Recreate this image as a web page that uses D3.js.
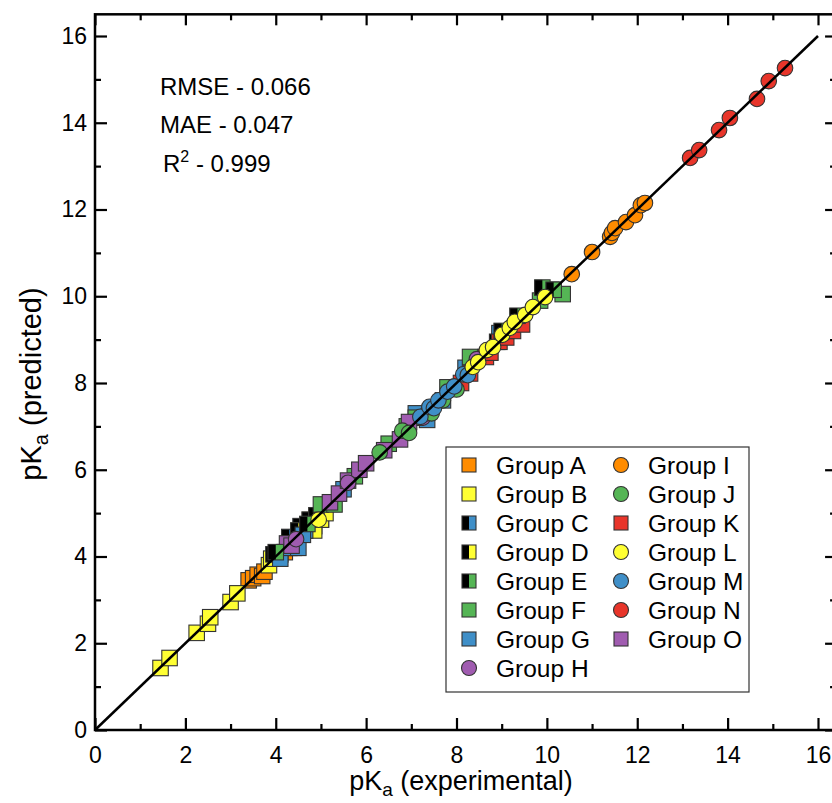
<!DOCTYPE html>
<html>
<head>
  <meta charset="utf-8"/>
  <title>pKa predicted vs experimental</title>
  <script src="https://d3js.org/d3.v7.min.js"></script>
  <style>
    html, body { margin: 0; padding: 0; background: #fff; overflow: hidden; }
    svg { display: block; font-family: "Liberation Sans", Arial, sans-serif; }
    .axis path { display: none; }
    .axis line { stroke: #000; stroke-width: 2.2px; }
    .axis text { font-size: 23px; fill: #000; font-family: "Liberation Sans", Arial, sans-serif; }
  </style>
</head>
<body>
<div id="chart"></div>
<script>
// [experimental, predicted] pairs per group
const groupA = [[3.4,3.45],[3.5,3.5],[3.6,3.58],[3.7,3.55],[3.75,3.65],[4.0,4.05],[4.2,4.1],[4.4,4.2],[4.85,4.7],[5.0,4.85]];
const groupB = [[1.45,1.43],[1.65,1.66],[2.25,2.24],[2.5,2.45],[2.55,2.6],[3.0,2.95],[3.15,3.15],[3.85,3.8],[3.9,3.95],[4.75,4.7],[4.85,4.6],[5.0,4.85],[5.1,5.0]];
const groupC = [[3.95,4.05],[4.3,4.45],[4.55,4.7],[4.65,4.6],[8.9,8.95]];
const groupD = [[4.1,4.05],[4.5,4.6],[4.75,4.85],[4.9,4.95]];
const groupE = [[4.0,4.1],[4.7,4.75],[9.0,9.2],[9.35,9.55],[9.9,10.2],[10.15,10.15]];
const groupF = [[5.0,5.2],[5.3,5.2],[5.75,5.85],[6.5,6.6],[6.9,7.0],[7.1,7.2],[7.8,7.9],[8.3,8.6],[9.85,9.9],[10.35,10.05],[10.1,10.15]];
const groupG = [[4.1,3.95],[4.3,4.2],[4.5,4.2],[4.6,4.5],[5.5,5.55],[7.1,7.3],[7.35,7.15],[7.7,7.6],[8.2,8.35],[8.95,9.15]];
const groupH = [[4.45,4.4],[5.6,5.7],[7.25,7.2],[7.35,7.3],[8.45,8.55]];
const groupI = [[10.55,10.51],[11.0,11.02],[11.4,11.37],[11.44,11.46],[11.51,11.57],[11.75,11.71],[11.95,11.87],[12.08,12.1],[12.17,12.15]];
const groupJ = [[6.3,6.4],[6.8,6.9],[6.95,6.85],[7.45,7.3],[7.7,7.6],[8.0,7.85]];
const groupK = [[8.1,8.0],[8.3,8.22],[8.65,8.6],[8.75,8.7],[8.95,8.95],[9.1,9.05],[9.25,9.2],[9.45,9.35]];
const groupL = [[4.95,4.85],[8.36,8.37],[8.48,8.48],[8.67,8.76],[8.81,8.83],[9.01,9.11],[9.18,9.27],[9.29,9.41],[9.52,9.57],[9.69,9.75],[9.96,9.98]];
const groupM = [[7.2,7.22],[7.4,7.45],[7.5,7.42],[7.6,7.6],[7.8,7.8],[7.95,7.92],[8.15,8.2],[8.25,8.18]];
const groupN = [[13.17,13.19],[13.37,13.37],[13.81,13.83],[14.05,14.11],[14.65,14.55],[14.91,14.96],[15.27,15.26]];
const groupO = [[4.25,4.3],[4.35,4.25],[5.2,5.25],[5.4,5.45],[5.6,5.75],[5.85,6.0],[6.0,6.15],[6.4,6.45],[6.75,6.7],[6.95,7.1]];

const groupNames = ["Group A","Group B","Group C","Group D","Group E","Group F","Group G","Group H",
                    "Group I","Group J","Group K","Group L","Group M","Group N","Group O"];
const groupData = [groupA,groupB,groupC,groupD,groupE,groupF,groupG,groupH,groupI,groupJ,groupK,groupL,groupM,groupN,groupO];
// shape + fill (half = left half black)
const groupStyle = [
  {shape:"square", fill:"#ff8c00"},
  {shape:"square", fill:"#ffff33"},
  {shape:"half",   fill:"#3f8fc8"},
  {shape:"half",   fill:"#ffff33"},
  {shape:"half",   fill:"#55b555"},
  {shape:"square", fill:"#55b555"},
  {shape:"square", fill:"#3f8fc8"},
  {shape:"circle", fill:"#a05cb0"},
  {shape:"circle", fill:"#ff8c00"},
  {shape:"circle", fill:"#55b555"},
  {shape:"square", fill:"#e8352a"},
  {shape:"circle", fill:"#ffff33"},
  {shape:"circle", fill:"#3f8fc8"},
  {shape:"circle", fill:"#e8352a"},
  {shape:"square", fill:"#a05cb0"}
];
// drawing order (squares first, then circles on top)
const drawOrder = [0,1,2,3,6,5,10,14,7,9,12,4,11,8,13];

const stats = ["RMSE - 0.066", "MAE - 0.047"];
const r2Value = " - 0.999";

const width = 832, height = 803;
const svg = d3.select("#chart").append("svg")
  .attr("width", width).attr("height", height);

const x = d3.scaleLinear().domain([0, 16]).range([95, 818]);
const y = d3.scaleLinear().domain([0, 16]).range([730, 36]);
const xRight = x(16.4), yTop = y(16.5);

const majorTicks = d3.range(0, 17, 2);
const minorTicks = d3.range(1, 16, 2);

// bottom axis
svg.append("g").attr("class", "axis")
  .attr("transform", `translate(0,${y(0)})`)
  .call(d3.axisBottom(x).tickValues(majorTicks).tickSize(-12).tickPadding(17).tickFormat(d3.format("d")));
svg.append("g").attr("class", "axis")
  .attr("transform", `translate(0,${y(0)})`)
  .call(d3.axisBottom(x).tickValues(minorTicks).tickSize(-6).tickFormat(""));
// top axis
svg.append("g").attr("class", "axis")
  .attr("transform", `translate(0,${yTop})`)
  .call(d3.axisTop(x).tickValues(majorTicks).tickSize(-11).tickFormat(""));
svg.append("g").attr("class", "axis")
  .attr("transform", `translate(0,${yTop})`)
  .call(d3.axisTop(x).tickValues(minorTicks).tickSize(-6).tickFormat(""));
// left axis
svg.append("g").attr("class", "axis")
  .attr("transform", `translate(${x(0)},0)`)
  .call(d3.axisLeft(y).tickValues(majorTicks).tickSize(-12).tickPadding(8).tickFormat(d3.format("d")));
svg.append("g").attr("class", "axis")
  .attr("transform", `translate(${x(0)},0)`)
  .call(d3.axisLeft(y).tickValues(minorTicks).tickSize(-6).tickFormat(""));
// right axis
svg.append("g").attr("class", "axis")
  .attr("transform", `translate(${xRight},0)`)
  .call(d3.axisRight(y).tickValues(majorTicks).tickSize(-11).tickFormat(""));
svg.append("g").attr("class", "axis")
  .attr("transform", `translate(${xRight},0)`)
  .call(d3.axisRight(y).tickValues(minorTicks).tickSize(-6).tickFormat(""));

// frame
svg.append("rect")
  .attr("x", x(0)).attr("y", yTop)
  .attr("width", xRight - x(0)).attr("height", y(0) - yTop)
  .attr("fill", "none").attr("stroke", "#000").attr("stroke-width", 2.5);

// markers
const S = 15.5, R = 7.8;
function drawMarker(g, style, size, rad) {
  if (style.shape === "circle") {
    g.append("circle").attr("r", rad).attr("fill", style.fill)
      .attr("stroke", "#333").attr("stroke-width", 1.1);
  } else if (style.shape === "square") {
    g.append("rect").attr("x", -size/2).attr("y", -size/2).attr("width", size).attr("height", size)
      .attr("fill", style.fill).attr("stroke", "#333").attr("stroke-width", 1.1);
  } else {
    g.append("rect").attr("x", -size/2).attr("y", -size/2).attr("width", size).attr("height", size)
      .attr("fill", style.fill);
    g.append("rect").attr("x", -size/2).attr("y", -size/2).attr("width", size/2).attr("height", size)
      .attr("fill", "#000");
    g.append("rect").attr("x", -size/2).attr("y", -size/2).attr("width", size).attr("height", size)
      .attr("fill", "none").attr("stroke", "#333").attr("stroke-width", 1.1);
  }
}

const pts = svg.append("g");
drawOrder.forEach(gi => {
  pts.selectAll(null).data(groupData[gi]).enter().append("g")
    .attr("transform", d => `translate(${x(d[0])},${y(d[1])})`)
    .each(function() { drawMarker(d3.select(this), groupStyle[gi], S, R); });
});

// identity line
svg.append("line")
  .attr("x1", x(0)).attr("y1", y(0)).attr("x2", x(16)).attr("y2", y(16))
  .attr("stroke", "#000").attr("stroke-width", 2.5);

// stats text
svg.selectAll(".stat").data(stats).enter().append("text")
  .attr("x", 160).attr("y", (d, i) => 95 + i * 38)
  .attr("font-size", 24).text(d => d);
const r2 = svg.append("text").attr("x", 163).attr("y", 172).attr("font-size", 24);
r2.append("tspan").text("R");
r2.append("tspan").attr("dy", -10).attr("font-size", 16).text("2");
r2.append("tspan").attr("dy", 10).text(r2Value);

// legend
const lg = svg.append("g");
lg.append("rect").attr("x", 446).attr("y", 447).attr("width", 303).attr("height", 245)
  .attr("fill", "#fff").attr("stroke", "#333").attr("stroke-width", 1.2);
groupNames.forEach((name, i) => {
  const col = i < 8 ? 0 : 1, row = i < 8 ? i : i - 8;
  const mx = col === 0 ? 469 : 621, my = 465 + row * 29;
  const g = lg.append("g").attr("transform", `translate(${mx},${my})`);
  drawMarker(g, groupStyle[i], 14, 7.5);
  lg.append("text").attr("x", mx + 27).attr("y", my + 9)
    .attr("font-size", 24.5).text(name);
});

// axis titles
const xt = svg.append("text").attr("x", 461).attr("y", 790)
  .attr("text-anchor", "middle").attr("font-size", 27);
xt.append("tspan").text("pK");
xt.append("tspan").attr("dy", 6).attr("font-size", 19).text("a");
xt.append("tspan").attr("dy", -6).text(" (experimental)");

const yt = svg.append("text")
  .attr("transform", `translate(41,384) rotate(-90)`)
  .attr("text-anchor", "middle").attr("font-size", 29);
yt.append("tspan").text("pK");
yt.append("tspan").attr("dy", 7).attr("font-size", 20).text("a");
yt.append("tspan").attr("dy", -7).text(" (predicted)");
</script>
</body>
</html>
